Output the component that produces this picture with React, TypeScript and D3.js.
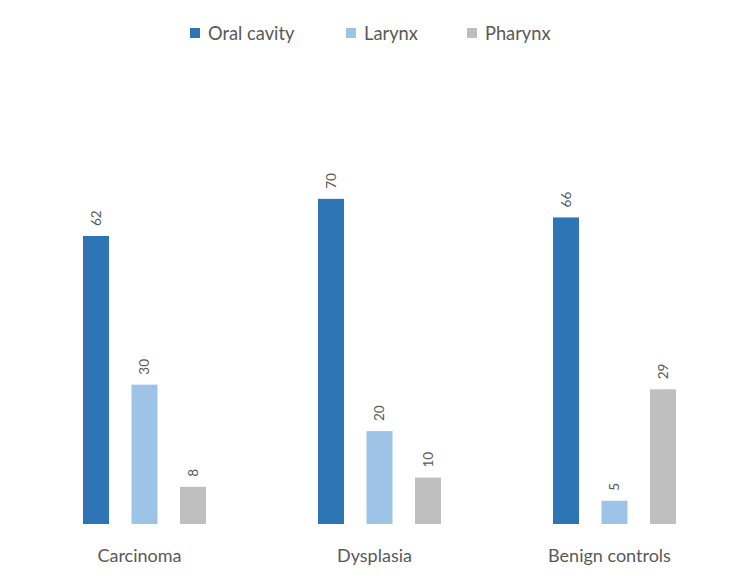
import React from "react";
import * as d3 from "d3";

const categories = ["Carcinoma", "Dysplasia", "Benign controls"];
const seriesNames = ["Oral cavity", "Larynx", "Pharynx"];
const oralCavity = [62, 70, 66];
const larynx = [30, 20, 5];
const pharynx = [8, 10, 29];
const colors = ["#2E75B6", "#9DC3E6", "#BFBFBF"];

const W = 750;
const H = 585;
const FONT = "Lato, 'Open Sans', sans-serif";

export default function App() {
  const seriesValues = [oralCavity, larynx, pharynx];
  const x0 = d3.scaleBand<string>().domain(categories).range([27, 732]).paddingInner(0).paddingOuter(0);
  const x1 = d3.scaleBand<string>().domain(seriesNames).range([56, 179]).paddingInner(0.464).paddingOuter(0);
  const y = d3.scaleLinear().domain([0, 80]).range([524, 152.4]);

  const legendX = [190, 346, 467];

  return (
    <div style={{ position: "absolute", left: 0, top: 0 }}>
      <svg width={W} height={H} style={{ display: "block", background: "#fff" }}>
        {seriesNames.map((s, i) => (
          <g key={s} transform={`translate(${legendX[i]},0)`}>
            <rect x={0} y={28} width={10} height={10} fill={colors[i]} />
            <text x={18} y={40} fontSize={18.3} fill="#595959" fontFamily={FONT}>
              {s}
            </text>
          </g>
        ))}
        {categories.map((c, ci) => (
          <g key={c}>
            {seriesNames.map((s, si) => {
              const v = seriesValues[si][ci];
              const bx = (x0(c) ?? 0) + (x1(s) ?? 0);
              const bw = x1.bandwidth();
              return (
                <g key={s}>
                  <rect x={bx} y={y(v)} width={bw} height={y(0) - y(v)} fill={colors[si]} />
                  <text
                    transform={`translate(${bx + bw / 2 + 4.8},${y(v) - 10}) rotate(-90)`}
                    fontSize={13.5}
                    fill="#595959"
                    fontFamily={FONT}
                    textAnchor="start"
                  >
                    {v}
                  </text>
                </g>
              );
            })}
            <text
              x={(x0(c) ?? 0) + x0.bandwidth() / 2 - 5}
              y={562}
              fontSize={18}
              fill="#595959"
              fontFamily={FONT}
              textAnchor="middle"
            >
              {c}
            </text>
          </g>
        ))}
      </svg>
    </div>
  );
}
